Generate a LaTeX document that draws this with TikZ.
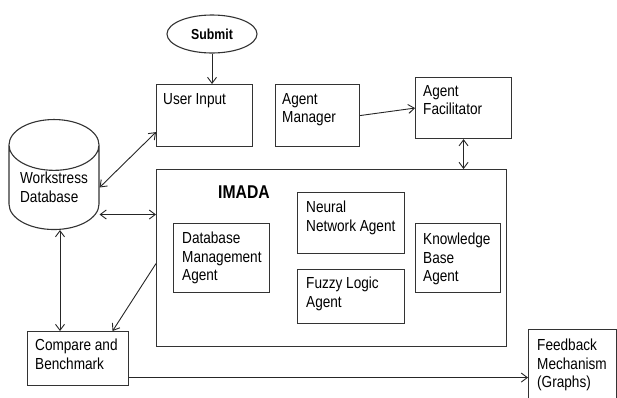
\documentclass[tikz,border=0pt]{standalone}
\usepackage{fontspec}
\setmainfont{Liberation Sans}[FakeStretch=0.85]
\usetikzlibrary{arrows.meta,shapes.geometric}

\begin{document}
\begin{tikzpicture}[x=1pt,y=-1pt,>={Straight Barb[length=6pt,width=9pt]},
	font=\fontsize{16}{18.4}\selectfont,
	box/.style={draw=black!80,line width=1.1pt,anchor=north west,inner sep=0pt},
	lbl/.style={align=left,inner sep=0pt,anchor=north west},
	link/.style={draw=black!85,line width=0.9pt}]
	\clip (0,0) rectangle (617,397);
	\node[draw=black!80,line width=1.1pt,ellipse,inner sep=0pt,minimum width=90,minimum height=38,font=\fontsize{14.5}{17}\selectfont\bfseries] (submit) at (212,34) {Submit};
	\node[box,minimum width=96,minimum height=62,label={[lbl,shift={(7,9.5)}]north west:User Input}] (user) at (156,84) {};
	\node[box,minimum width=84,minimum height=62,label={[lbl,shift={(7,9)}]north west:Agent\\Manager}] (mgr) at (275,84) {};
	\node[box,minimum width=96,minimum height=61,label={[lbl,shift={(8,8)}]north west:Agent\\Facilitator}] (fac) at (415,77) {};
	\node[box,minimum width=350,minimum height=177] (imada) at (156,169) {};
	\node[anchor=north,inner sep=0pt,font=\fontsize{18.5}{22}\selectfont\bfseries] (imadaT) at (244,186) {IMADA};
	\node[box,minimum width=96,minimum height=69,label={[lbl,shift={(9,9)}]north west:Database\\Management\\Agent}] (dbm) at (173,223) {};
	\node[box,minimum width=107,minimum height=61,label={[lbl,shift={(9,9)}]north west:Neural\\Network Agent}] (nn) at (297,192) {};
	\node[box,minimum width=107,minimum height=54,label={[lbl,shift={(9,8)}]north west:Fuzzy Logic\\Agent}] (fl) at (297,269) {};
	\node[box,minimum width=85,minimum height=69,label={[lbl,shift={(8,10)}]north west:Knowledge\\Base\\Agent}] (kb) at (415,223) {};
	\node[box,minimum width=101,minimum height=54,label={[lbl,shift={(8,8)}]north west:Compare and\\Benchmark}] (cb) at (27,331) {};
	\node[box,minimum width=88,minimum height=80,label={[lbl,shift={(9,10)}]north west:Feedback\\Mechanism\\(Graphs)}] (fb) at (528,329) {};
	\node[draw=black!80,line width=1.1pt,cylinder,shape border rotate=90,aspect=0.75,minimum width=90,minimum height=110,align=left,inner sep=0pt,font=\fontsize{16}{19.5}\selectfont] (db) at (54,187.5) {Workstress\\Database};
	\draw[link,->] (submit) -- (submit |- user.north);
	\draw[link,->] (mgr.east) -- (fac.west);
	\draw[link,<->] (fac) -- (fac |- imada.north);
	\draw[link,<->] (db.east) -- ([yshift=15pt]user.south west);
	\draw[link,<->] ([yshift=-27pt]db.east) -- ([yshift=-27pt]db.east -| imada.west);
	\draw[link,<->] ([xshift=6pt]db.south) -- ([xshift=6pt]db.south |- cb.north);
	\draw[link,->] ([yshift=-5.5pt]imada.west) -- ([xshift=34.5pt]cb.north);
	\draw[link,->] ([yshift=-19pt]cb.east) -- ([yshift=-19pt]cb.east -| fb.west);
\end{tikzpicture}
\end{document}
